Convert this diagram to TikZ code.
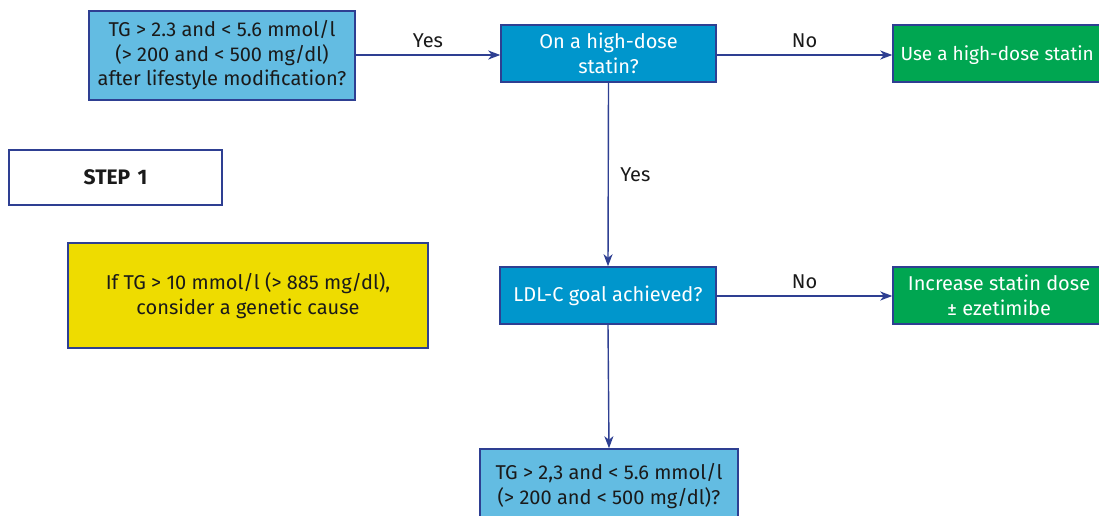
\documentclass[tikz,border=0pt]{standalone}
\usepackage{fontspec}
\setmainfont{Fira Sans}
\usetikzlibrary{arrows.meta}
\definecolor{edge}{HTML}{2E3F92}
\definecolor{lightblue}{HTML}{63BCE2}
\definecolor{midblue}{HTML}{0096CC}
\definecolor{boxgreen}{HTML}{00A651}
\definecolor{boxyellow}{HTML}{EEDC00}
\definecolor{txt}{HTML}{1A1A1A}
\tikzset{
  box/.style={draw=edge, line width=1.5pt, inner sep=0pt, align=center,
    font=\fontsize{20}{24.5}\selectfont, text=txt},
  question/.style={box, fill=lightblue},
  decision/.style={box, fill=midblue, text=white},
  action/.style={box, fill=boxgreen, text=white},
  note/.style={box, fill=boxyellow},
  stepbox/.style={box, fill=white},
  link/.style={draw=edge, line width=1.4pt, -{Stealth[length=12pt,width=9pt,inset=3.5pt]}},
  tag/.style={font=\fontsize{20}{22}\selectfont, text=txt}
}
\begin{document}
\begin{tikzpicture}[x=1pt,y=-1pt]
\useasboundingbox (0,0) rectangle (1099,516);
\clip (0,0) rectangle (1099,516);
\fill[white] (0,0) rectangle (1099,516);

\node[question, minimum width=266pt, minimum height=89pt] (tg) at (222,55.5)
  {TG > 2.3 and < 5.6 mmol/l\\(> 200 and < 500 mg/dl)\\after lifestyle modification?};
\node[decision, minimum width=215pt, minimum height=57pt] (hd) at (608.5,53.5)
  {On a high-dose\\statin?};
\node[action, minimum width=218pt, minimum height=57pt] (use) at (1002,53.5) {};
\node[text=white, font=\fontsize{19}{22}\selectfont, anchor=west] (uset) at (897,55)
  {Use a high-dose statin};

\node[stepbox, minimum width=213pt, minimum height=55pt, font=\fontsize{21}{22}\selectfont\bfseries] (step) at (115.5,177.5) {STEP\hspace{0.35em}1};
\node[note, minimum width=360pt, minimum height=105pt] (gen) at (248,295.5)
  {If TG > 10 mmol/l (> 885 mg/dl),\\consider a genetic cause};

\node[decision, minimum width=216pt, minimum height=57pt] (ldl) at (608,295.5)
  {LDL-C goal achieved?};
\node[action, minimum width=212pt, minimum height=57pt] (inc) at (999,295.5)
  {Increase statin dose\\± ezetimibe};

\node[question, minimum width=258pt, minimum height=74pt] (tg2) at (609,486)
  {TG > 2,3 and < 5.6 mmol/l\\(> 200 and < 500 mg/dl)?};

\draw[link] (tg.east |- 0,55) -- node[tag, above=3pt] {Yes} (hd.west |- 0,55);
\draw[link] (hd.east |- 0,55) -- node[tag, above=3pt] {No} (use.west |- 0,55);
\draw[link] (hd.south) -- node[tag, right=8pt, pos=0.5] {Yes} (ldl.north);
\draw[link] (ldl.east |- 0,296) -- node[tag, above=3pt] {No} (inc.west |- 0,296);
\draw[link] (ldl.south) -- (tg2.north);
\end{tikzpicture}
\end{document}
